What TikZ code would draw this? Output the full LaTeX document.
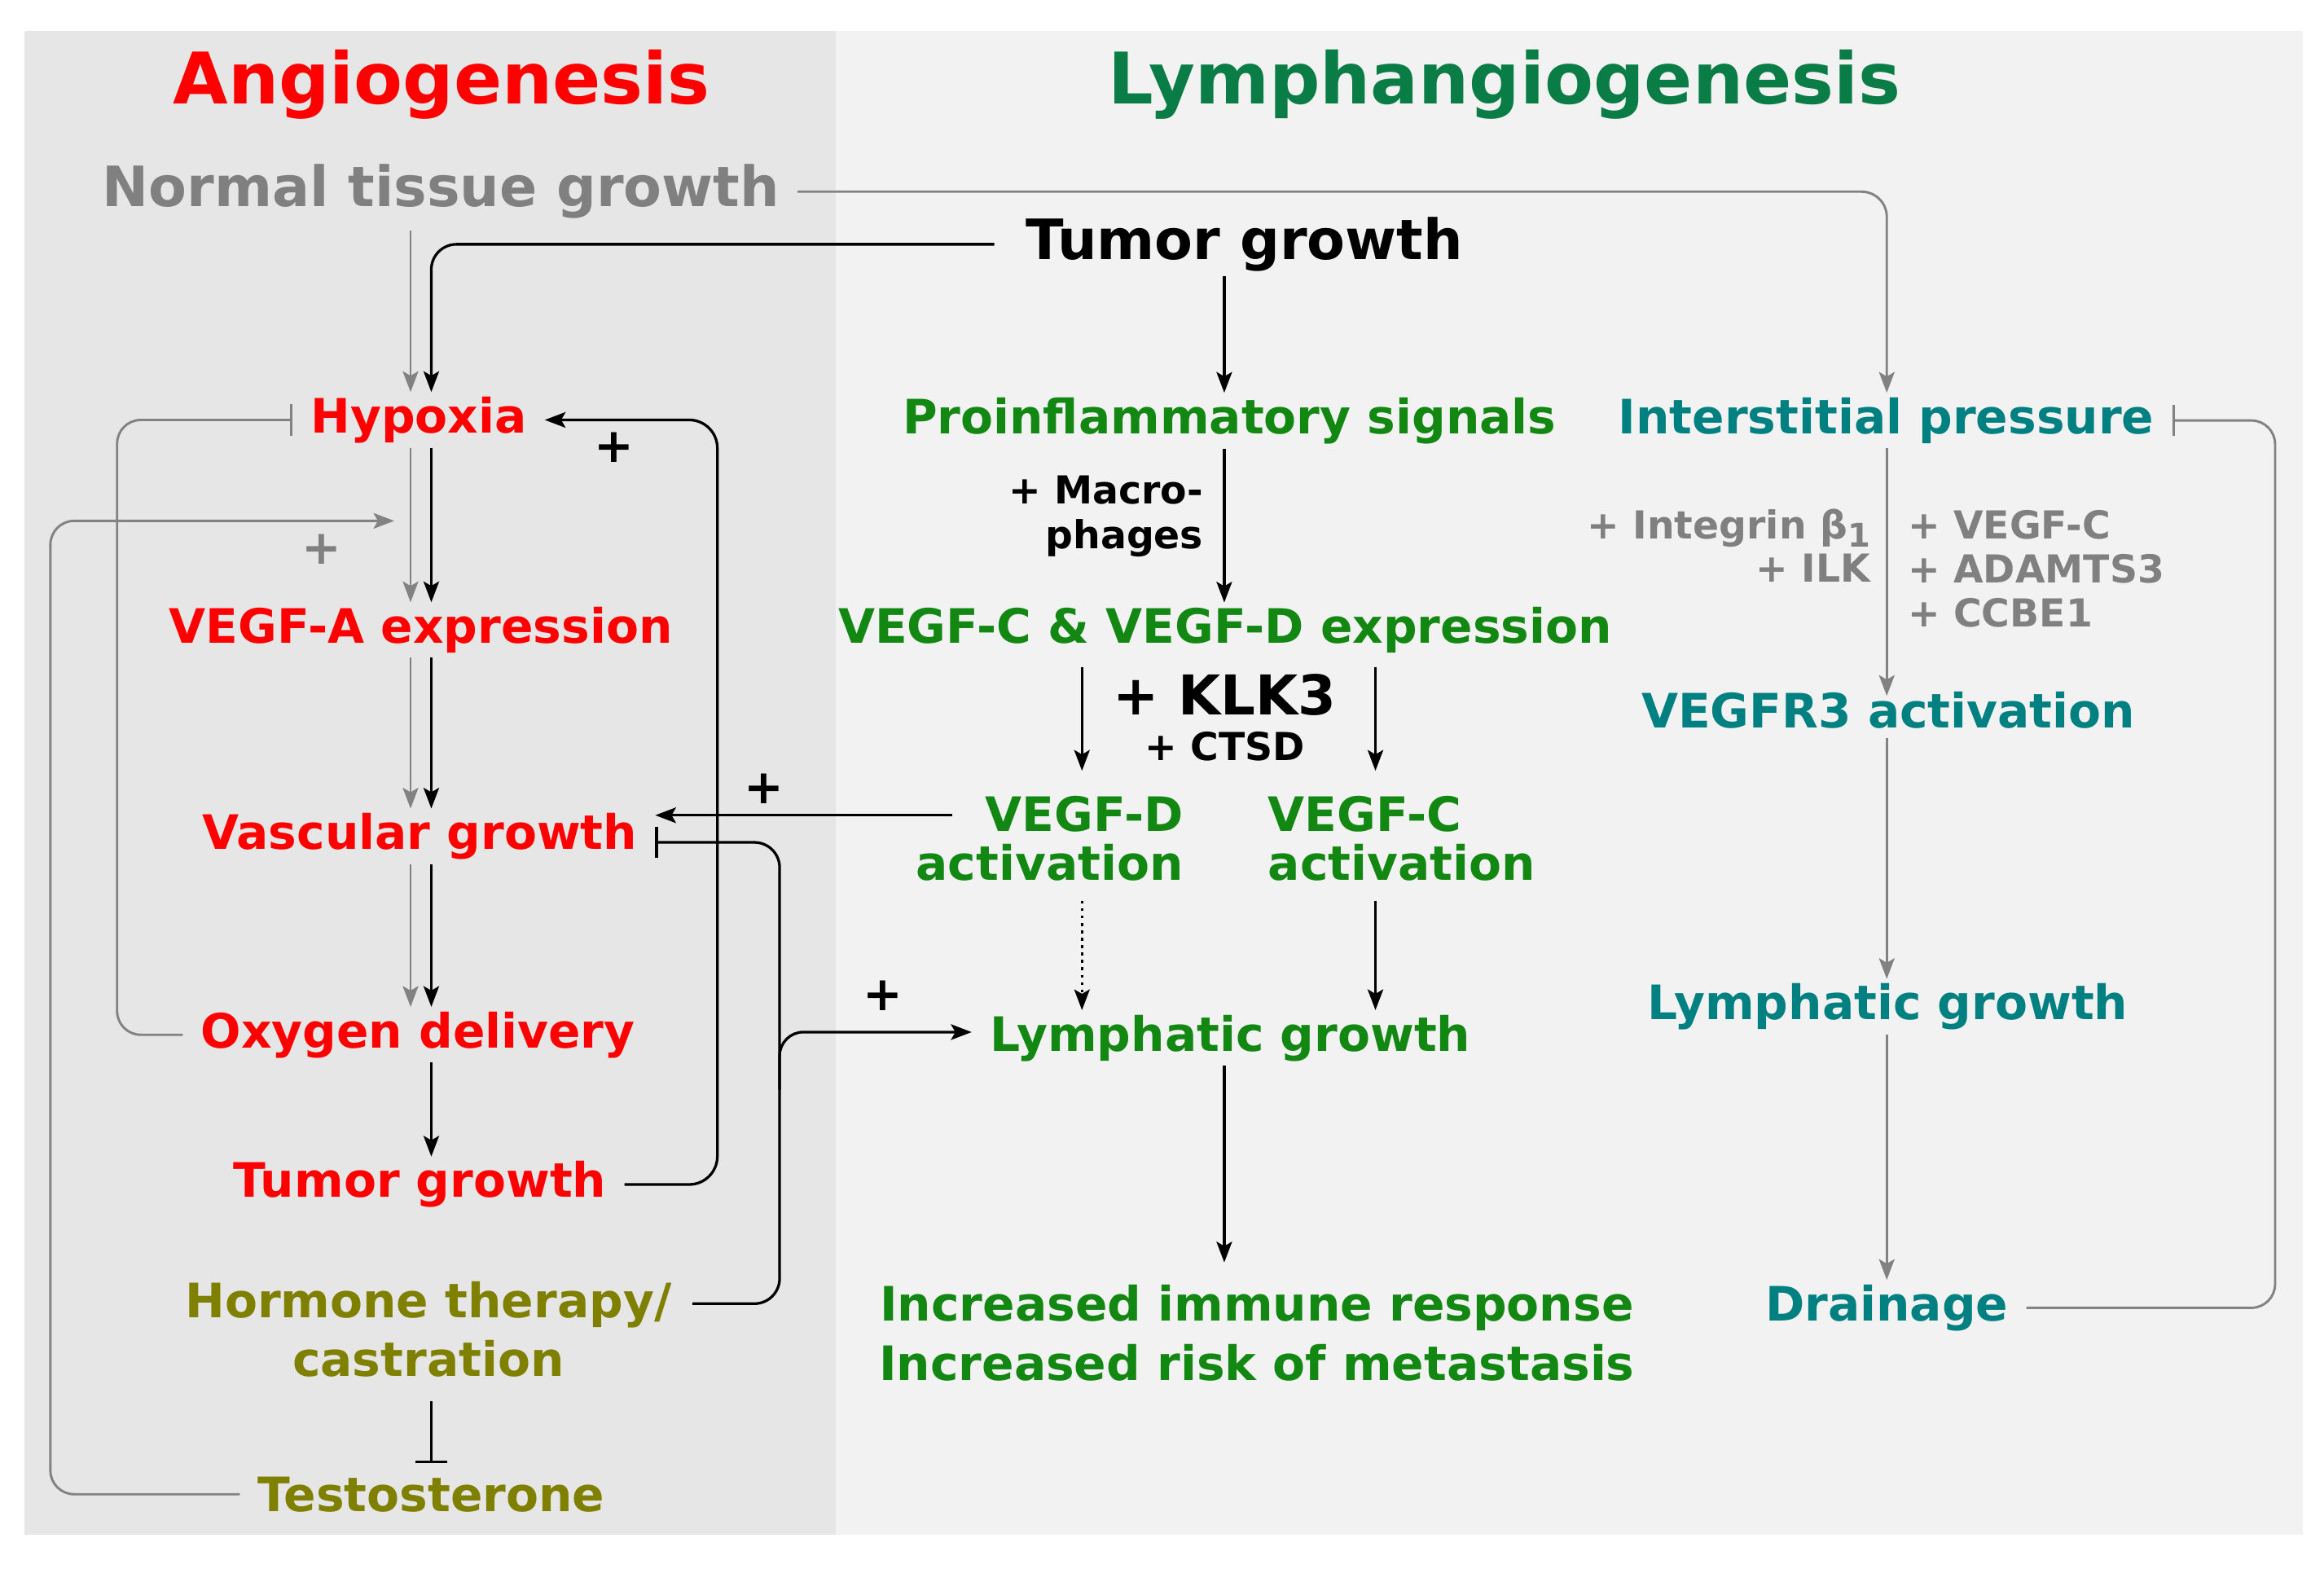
\documentclass[tikz,border=0pt]{standalone}
\usepackage{fontspec}
\setmainfont{DejaVu Sans}
\usetikzlibrary{arrows.meta,calc}
\definecolor{angred}{RGB}{255,0,0}
\definecolor{titlegreen}{RGB}{10,125,70}
\definecolor{ngreen}{RGB}{18,135,18}
\definecolor{nteal}{RGB}{0,128,128}
\definecolor{nolive}{RGB}{128,128,0}
\definecolor{ngray}{RGB}{128,128,128}
\definecolor{lgray}{RGB}{130,130,130}
\definecolor{bgleft}{RGB}{230,230,230}
\definecolor{bgright}{RGB}{242,242,242}
\newcommand\myfs[2]{\fontsize{#1}{#2}\selectfont}
\begin{document}
\begin{tikzpicture}[x=1pt,y=-1pt,
  >={Stealth[length=14pt,width=10.5pt,inset=3pt]},
  nd/.style={font=\bfseries\myfs{32}{33}, inner xsep=12pt, inner ysep=3pt, anchor=base},
  title/.style={font=\bfseries\myfs{48}{50}, inner sep=0pt, anchor=base},
  big/.style={font=\bfseries\myfs{37.5}{39}, inner xsep=12pt, inner ysep=3pt, anchor=base},
  small/.style={font=\bfseries\myfs{26}{30}, inner sep=0pt},
  plus/.style={font=\bfseries\myfs{32}{33}, inner sep=0pt},
  barr/.style={draw=black, line width=1.8pt, ->},
  garr/.style={draw=lgray, line width=1.6pt, ->},
  binh/.style={draw=black, line width=1.8pt, -{Bar[width=21pt]}},
  ginh/.style={draw=lgray, line width=1.6pt, -{Bar[width=21pt]}},
  rc/.style={rounded corners=17pt}
]
\useasboundingbox (0,0) rectangle (1568,1058.5);
\fill[white] (0,0) rectangle (1568,1058.5);
\fill[bgleft] (16.6,20.8) rectangle (563.7,1035.2);
\fill[bgright] (563.7,20.8) rectangle (1553.7,1035.2);

% column coordinates
\coordinate (cgL) at (277,0);
\coordinate (cbL) at (291,0);
\coordinate (loopR) at (484,0);
\coordinate (hormR) at (526,0);
\coordinate (oxL) at (79,0);
\coordinate (testL) at (34,0);
\coordinate (cMid) at (826,0);
\coordinate (cD) at (730,0);
\coordinate (cC) at (928,0);
\coordinate (cR) at (1273,0);
\coordinate (drainR) at (1535,0);

% titles
\node[title, text=angred] (angio) at (298,70) {Angiogenesis};
\node[title, text=titlegreen] (lymt) at (1015,70) {Lymphangiogenesis};

% left column
\node[big, text=ngray] (normal) at (297.5,139.5) {Normal tissue growth};
\node[big, text=black] (tumor) at (839.5,175) {Tumor growth};
\node[nd, text=angred] (hyp) at (282.5,292) {Hypoxia};
\node[nd, text=angred] (vega) at (284,433.8) {VEGF-A expression};
\node[nd, text=angred] (vasc) at (283.3,573) {Vascular growth};
\node[nd, text=angred] (ox) at (282,706.8) {Oxygen delivery};
\node[nd, text=angred] (tum2) at (283.3,807.8) {Tumor growth};
\node[nd, text=nolive, anchor=north, align=center, font=\bfseries\myfs{32}{39.5}] (horm) at (289,861.5) {Hormone therapy/\\castration};
\node[nd, text=nolive] (test) at (291,1019.5) {Testosterone};

% middle column
\node[nd, text=ngreen] (prol) at (829.5,292.5) {Proinflammatory signals};
\node[small, text=black, anchor=north east, align=right] (macro) at (812,321) {+ Macro-\\phages};
\node[nd, text=ngreen] (vcd) at (826.6,434) {VEGF-C \& VEGF-D expression};
\node[inner sep=0pt, anchor=base, font=\bfseries\myfs{37}{38}] (klk) at (826.5,482) {+ KLK3};
\node[small, anchor=base] (ctsd) at (826.5,513) {+ CTSD};
\node[nd, text=ngreen, anchor=north east, align=right] (vd) at (810.6,534) {VEGF-D\\activation};
\node[nd, text=ngreen, anchor=north west, align=left] (vc) at (843.4,534) {VEGF-C\\activation};
\node[nd, text=ngreen] (lymg) at (830,709) {Lymphatic growth};
\node[nd, text=ngreen, anchor=north, align=center, font=\bfseries\myfs{32}{40}] (incr) at (848,863.7) {Increased immune response\\Increased risk of metastasis};

% right column
\node[nd, text=nteal] (inter) at (1272.6,292.5) {Interstitial pressure};
\node[small, text=ngray, anchor=north east, align=right, font=\bfseries\myfs{26}{29.6}] (ilab) at (1262,343) {+ Integrin β{\raisebox{-0.22em}{\myfs{22}{22}1}}\\+ ILK};
\node[small, text=ngray, anchor=north west, align=left, font=\bfseries\myfs{26}{29.6}] (vlab) at (1287,344) {+ VEGF-C\\+ ADAMTS3\\+ CCBE1};
\node[nd, text=nteal] (vr3) at (1274,491) {VEGFR3 activation};
\node[nd, text=nteal] (lymT) at (1273.5,688) {Lymphatic growth};
\node[nd, text=nteal] (drain) at (1273,891) {Drainage};

% plus signs
\node[plus, text=black] (p1) at (414.5,301.8) {+};
\node[plus, text=ngray] (p2) at (217,370.5) {+};
\node[plus, text=black] (p3) at (515.6,532) {+};
\node[plus, text=black] (p4) at (595.8,672) {+};

% helper coordinates
\coordinate (tpoint) at (266,351.4);
\coordinate (vinh) at ([yshift=-4pt]vasc.east);
\coordinate (hstart) at ([yshift=-18pt,xshift=2pt]horm.north east);
\coordinate (vdin) at ($(vd.north east)+(-168,16)$);
\coordinate (hbr) at (526,735);
\coordinate (lymgin) at ([yshift=4pt]lymg.west);

% left connectors
\draw[garr, shorten <=5pt] (normal.south -| cgL) -- (hyp.north -| cgL);
\draw[barr, rc] ([xshift=-9pt]tumor.west) -| (hyp.north -| cbL);
\draw[garr, rc] (normal.east) -| (inter.north -| cR);
\draw[garr] (hyp.south -| cgL) -- (vega.north -| cgL);
\draw[barr] (hyp.south -| cbL) -- (vega.north -| cbL);
\draw[garr] (vega.south -| cgL) -- (vasc.north -| cgL);
\draw[barr] (vega.south -| cbL) -- (vasc.north -| cbL);
\draw[garr] (vasc.south -| cgL) -- (ox.north -| cgL);
\draw[barr] (vasc.south -| cbL) -- (ox.north -| cbL);
\draw[barr] (ox.south -| cbL) -- (tum2.north -| cbL);
\draw[barr, rounded corners=19pt] (tum2.east) -| (loopR |- hyp.east) -- (hyp.east);
\draw[ginh, rounded corners=16pt] (ox.west) -| (oxL |- hyp.west) -- (hyp.west);
\draw[garr, rounded corners=16pt] (test.west) -| (testL |- tpoint) -- (tpoint);
\draw[binh, shorten <=13pt, shorten >=6pt] (horm.south -| cbL) -- (test.north -| cbL);
\draw[binh, rc] (hstart) -| (hormR |- vinh) -- (vinh);
\draw[barr, rounded corners=16pt] (hbr) |- (lymgin);
\draw[barr] (vdin) -- (vdin -| vasc.east);

% middle connectors
\draw[barr] (tumor.south -| cMid) -- (prol.north -| cMid);
\draw[barr] (prol.south -| cMid) -- (vcd.north -| cMid);
\draw[barr, shorten <=6pt, shorten >=14pt] (vcd.south -| cD) -- (vd.north -| cD);
\draw[barr, shorten <=6pt, shorten >=14pt] (vcd.south -| cC) -- (vc.north -| cC);
\draw[barr, dash pattern=on 2pt off 3pt, line width=1.4pt, shorten <=10pt] (vd.south -| cD) -- (lymg.north -| cD);
\draw[barr, shorten <=10pt] (vc.south -| cC) -- (lymg.north -| cC);
\draw[barr, shorten >=12pt] (lymg.south -| cMid) -- (incr.north -| cMid);

% right connectors
\draw[garr, shorten >=-6pt] (inter.south -| cR) -- (vr3.north -| cR);
\draw[garr, shorten <=3pt] (vr3.south -| cR) -- (lymT.north -| cR);
\draw[garr] (lymT.south -| cR) -- (drain.north -| cR);
\draw[ginh, rounded corners=16pt] (drain.east) -| (drainR |- inter.east) -- (inter.east);
\end{tikzpicture}
\end{document}
